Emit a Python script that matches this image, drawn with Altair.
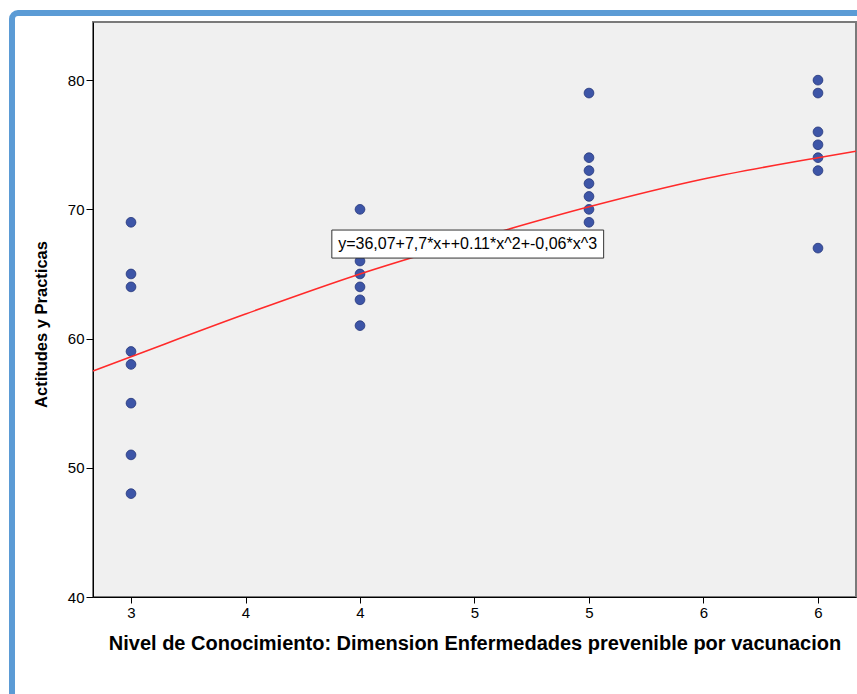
import altair as alt
import pandas as pd

# ---- data ----
levels = [3, 4, 5, 6]
vals_3 = [69, 65, 64, 59, 58, 55, 51, 48]
vals_4 = [70, 66, 65, 64, 63, 61]
vals_5 = [79, 74, 73, 72, 71, 70, 69]
vals_6 = [80, 79, 76, 75, 74, 73, 67]

curve_x = [2.834, 3.0, 3.5, 4.0, 4.5, 5.0, 5.5, 6.0, 6.166]
curve_y = [57.5, 58.6, 61.9, 65.0, 67.7, 70.2, 72.35, 74.0, 74.5]

x_ticks = [3, 3.5, 4, 4.5, 5, 5.5, 6]
y_ticks = [40, 50, 60, 70, 80]

eq_label = "y=36,07+7,7*x++0.11*x^2+-0,06*x^3"
label_box = {"x1": 3.877, "x2": 5.064, "y1": 66.23, "y2": 68.40, "tx": 4.47, "ty": 67.3}

# ---- tables ----
xs, ys = [], []
for lv, vals in zip(levels, [vals_3, vals_4, vals_5, vals_6]):
    xs += [lv] * len(vals)
    ys += vals
pts = pd.DataFrame({"x": xs, "y": ys})
curve = pd.DataFrame({"x": curve_x, "y": curve_y})
ann = pd.DataFrame([{**label_box, "label": eq_label}])

FONT = "Liberation Sans"
xscale = alt.Scale(domain=[2.834, 6.166], nice=False, zero=False)
yscale = alt.Scale(domain=[40, 84.5], nice=False, zero=False)

xaxis = alt.Axis(
    values=x_ticks, labelExpr="format(round(datum.value), 'd')",
    title="Nivel de Conocimiento: Dimension Enfermedades prevenible por vacunacion",
    grid=False, domainColor="black", tickColor="black", tickSize=6,
    labelFont=FONT, labelFontSize=15, labelColor="black", labelPadding=2,
    titleFont=FONT, titleFontSize=20, titleFontWeight="bold", titleColor="black",
    titlePadding=13,
)
yaxis = alt.Axis(
    values=y_ticks, title="Actitudes y Practicas",
    grid=False, domainColor="black", tickColor="black", tickSize=7,
    labelFont=FONT, labelFontSize=15, labelColor="black", labelPadding=2,
    titleFont=FONT, titleFontSize=16.5, titleFontWeight="bold", titleColor="black",
    titlePadding=18, titleY=302,
)

frame = alt.Chart(pd.DataFrame({"a": [0]})).mark_rect(
    fill="transparent", stroke="#5B9BD5", strokeWidth=6, cornerRadius=6
).encode(
    x=alt.value(-81), y=alt.value(-9), x2=alt.value(1000), y2=alt.value(1000)
)

points = alt.Chart(pts).mark_circle(
    size=95, color="#3D55A7", stroke="#24367A", strokeWidth=0.8, opacity=1
).encode(
    x=alt.X("x:Q", scale=xscale, axis=xaxis),
    y=alt.Y("y:Q", scale=yscale, axis=yaxis),
)

line = alt.Chart(curve).mark_line(color="#FF2A2A", strokeWidth=1.6, interpolate="monotone").encode(
    x="x:Q", y="y:Q"
)

box = alt.Chart(ann).mark_rect(fill="white", stroke="#333333", strokeWidth=1).encode(
    x="x1:Q", x2="x2", y="y1:Q", y2="y2"
)
text = alt.Chart(ann).mark_text(font=FONT, fontSize=16, color="black", align="center", baseline="middle").encode(
    x="tx:Q", y="ty:Q", text="label:N"
)

chart = alt.layer(frame, points, line, box, text).properties(
    width=763, height=575,
    autosize=alt.AutoSizeParams(type="none"),
    padding={"left": 93, "top": 22, "right": 1, "bottom": 97},
    background="white",
).configure_view(fill="#F0F0F0", stroke="#7A7A7A", strokeWidth=2)

chart.save("out.html", embed_options={"renderer": "svg", "actions": False})
